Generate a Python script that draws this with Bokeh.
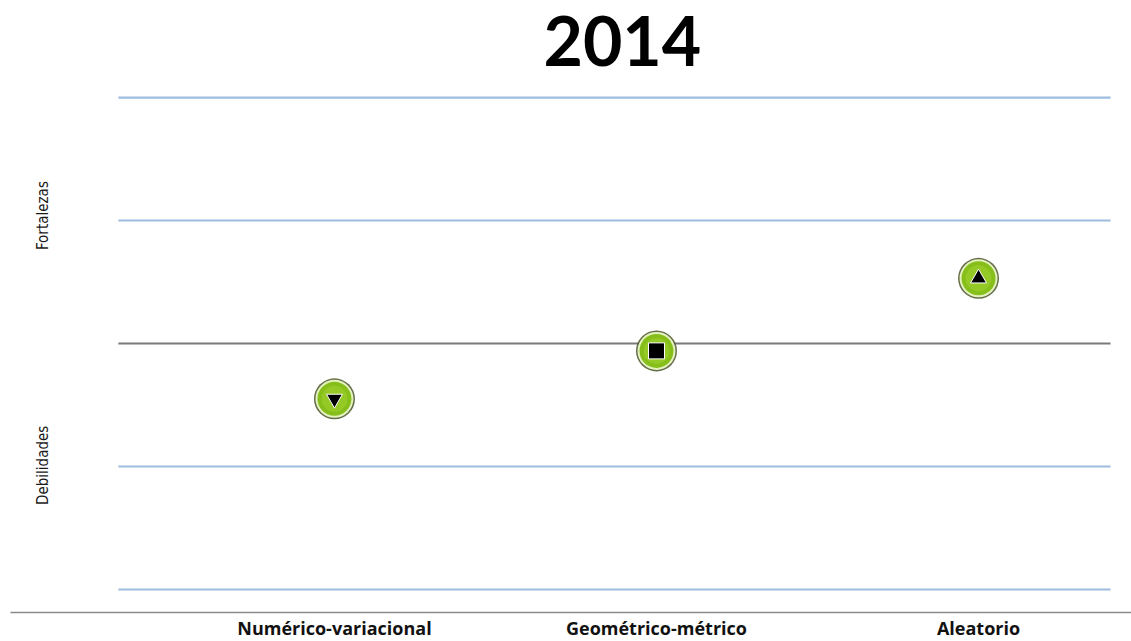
import math
from bokeh.plotting import figure
from bokeh.models import ColumnDataSource, Label
from bokeh.core.properties import value
from bokeh.embed import file_html
from bokeh.resources import INLINE

# ---- data ----
title_text = "2014"
categories = ["Numérico-variacional", "Geométrico-métrico", "Aleatorio"]
scores = [-0.45, -0.06, 0.53]
grid_levels = [-2, -1, 1, 2]
zero_level = 0
y_labels = ["Fortalezas", "Debilidades"]
y_label_levels = [1.04, -0.99]

xs = list(range(len(categories)))


def marker_for(v):
    if v > 0.2:
        return "triangle"
    if v < -0.2:
        return "inverted_triangle"
    return "square"


markers = [marker_for(v) for v in scores]

src = ColumnDataSource(dict(x=xs, y=scores, m=markers))

X0, X1 = -1.037, 2.475
Y0, Y1 = -2.423, 2.789

p = figure(width=1131, height=641, output_backend="svg", toolbar_location=None,
           x_range=(X0, X1), y_range=(Y0, Y1),
           min_border_left=0, min_border_right=0, min_border_top=0, min_border_bottom=0)
p.outline_line_color = None
p.background_fill_color = "white"
p.border_fill_color = "white"
p.grid.visible = False
p.xaxis.visible = False
p.yaxis.visible = False

# category axis (baseline + labels)
axis_y = -2.187
label_y = -2.315
p.segment(x0=[-1.006], x1=[X1], y0=[axis_y], y1=[axis_y], line_color="#8a8a8a", line_width=1.5)
p.text(x=xs, y=[label_y] * len(xs), text=categories, text_font=value("Open Sans"),
       text_font_style="bold", text_font_size="18px", text_color="#111111",
       text_align="center", text_baseline="middle")

# horizontal reference lines
gx0, gx1 = -0.671, 2.41
p.segment(x0=[gx0] * len(grid_levels), x1=[gx1] * len(grid_levels),
          y0=grid_levels, y1=grid_levels, line_color="#9dbde0", line_width=2.2)
p.segment(x0=[gx0], x1=[gx1], y0=[zero_level], y1=[zero_level],
          line_color="#7a7a7a", line_width=2.2)

# markers: glossy green circles
p.scatter("x", "y", source=src, marker="circle", size=41, fill_color="#3f4a1a",
          line_color=None, fill_alpha=0.8)
p.scatter("x", "y", source=src, marker="circle", size=38, fill_color="#e4f2c0",
          line_color=None)
p.scatter("x", "y", source=src, marker="circle", size=34, fill_color="#86be1a",
          line_color=None)
p.scatter("x", "y", source=src, marker="circle", size=26, fill_color="#a2d232",
          line_color=None, fill_alpha=0.55)
p.scatter("x", "y", source=src, marker="m", size=16, fill_color="black",
          line_color="white", line_width=1)

# title
p.add_layout(Label(x=0.894, y=2.463, text=title_text, text_font="Lato",
                   text_font_style="bold", text_font_size="68px",
                   text_align="center", text_baseline="middle", text_color="black"))

# side labels
for t, lv in zip(y_labels, y_label_levels):
    p.add_layout(Label(x=-0.904, y=lv, text=t, angle=math.pi / 2,
                       text_font="DejaVu Sans Condensed", text_font_size="15px",
                       text_align="center", text_baseline="middle", text_color="#1a1a1a"))

open("out.html", "w").write(file_html(p, INLINE))
